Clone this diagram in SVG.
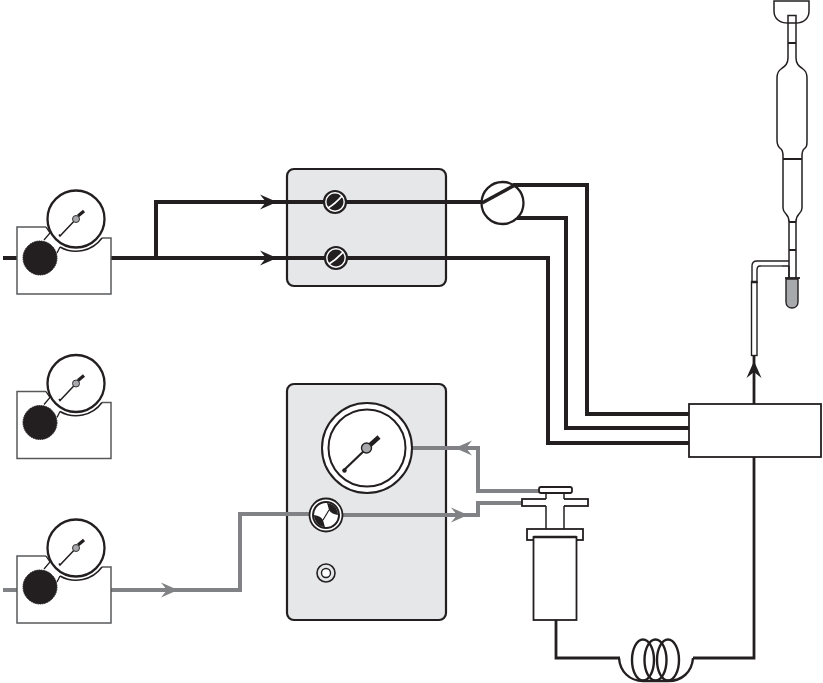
<svg xmlns="http://www.w3.org/2000/svg" width="823" height="683" viewBox="0 0 823 683">
<defs>
<style>
.k{fill:none;stroke:#231f20;stroke-width:4}
.g{fill:none;stroke:#808285;stroke-width:4}
.t{fill:none;stroke:#231f20;stroke-width:1.5}
.w{fill:#fff;stroke:#231f20;stroke-width:1.8}
.p{fill:#e6e7e8;stroke:#231f20;stroke-width:2.2}
.hk{fill:#231f20}
.hg{fill:#808285}
</style>
<path id="ah" d="M0 0L-17 -7.500L-11 0L-17 7.500Z"/>
<g id="cyl">
<path d="M46 227H17V294H111V238H102" fill="#fff" stroke="#58595b" stroke-width="1.500"/>
<path d="M46 227L50 233L44 240M57 253L60 247" fill="none" stroke="#231f20" stroke-width="1.300"/>
<path d="M60 247A32.200 32.200 0 0 0 102 238" fill="none" stroke="#231f20" stroke-width="1.500"/>
<circle cx="76" cy="219" r="28.500" fill="#fff" stroke="#231f20" stroke-width="2.300"/>
<path d="M59 234.500L60 236L78 217" fill="none" stroke="#231f20" stroke-width="1.500"/>
<path d="M78 216L84 211" fill="none" stroke="#231f20" stroke-width="3.200"/>
<circle cx="76" cy="219" r="3.500" fill="#a7a9ac" stroke="#231f20" stroke-width="0.900"/>
<circle cx="40" cy="258" r="17" fill="#231f20" stroke="#231f20" stroke-width="1" stroke-dasharray="1.500 0.800"/>
</g>
<g id="vlv">
<circle r="11" fill="#fff" stroke="#231f20" stroke-width="2.200"/>
<circle r="8.500" fill="#231f20"/>
<path d="M-7 6Q0 2 7 -6" stroke="#fff" stroke-width="1.800" fill="none"/>
</g>
</defs>
<rect width="823" height="683" fill="#fff"/>

<g id="panel-top"><rect class="p" x="287" y="169" width="159" height="117" rx="7"/></g>
<g id="panel-bottom"><rect class="p" x="287" y="384" width="159" height="236" rx="7"/></g>

<g id="connectors">
<path class="k" d="M3 258H17M111 258H548V443H689"/>
<path class="k" d="M156 258V202H483"/>
<path class="k" d="M513 185H587V414H689"/>
<path class="k" d="M517 218H566V428H689"/>
<path d="M754 404V355" fill="none" stroke="#231f20" stroke-width="2.800"/>
<path d="M754 457V658H693M620 658H556V620" fill="none" stroke="#231f20" stroke-width="2.800"/>
<path class="g" d="M3 590H17M111 590H240V514H309"/>
<path class="g" d="M343 515H478V503H523"/>
<path class="g" d="M412 448H478V491H539"/>
<use href="#ah" class="hk" x="277" y="202"/>
<use href="#ah" class="hk" x="277" y="258"/>
<use href="#ah" class="hg" x="178" y="590"/>
<use href="#ah" class="hg" x="468" y="515"/>
<use href="#ah" class="hg" transform="translate(455 448) rotate(180)"/>
<use href="#ah" class="hk" transform="translate(754 361) rotate(-90)"/>
</g>

<g id="regulator-1"><use href="#cyl"/></g>
<g id="regulator-2"><use href="#cyl" y="164.500"/></g>
<g id="regulator-3"><use href="#cyl" y="329"/></g>

<g id="valve-1"><use href="#vlv" x="335" y="202"/></g>
<g id="valve-2"><use href="#vlv" x="336" y="258"/></g>

<g id="switch-valve">
<circle cx="502.500" cy="203" r="21" fill="#fff" stroke="#231f20" stroke-width="2.300"/>
<path d="M482 203L515 185" fill="none" stroke="#231f20" stroke-width="3.600"/>
</g>

<g id="big-gauge">
<circle cx="367" cy="448" r="45" fill="#fff" stroke="#231f20" stroke-width="2"/>
<circle cx="367" cy="448" r="38.500" fill="#fff" stroke="#231f20" stroke-width="2"/>
<path d="M343 471L367 448" fill="none" stroke="#231f20" stroke-width="2.200"/>
<path d="M369 446L379 437" fill="none" stroke="#231f20" stroke-width="4.500"/>
<circle cx="344.500" cy="470.500" r="2.200" fill="#231f20"/>
<circle cx="366.500" cy="448" r="5" fill="#a7a9ac" stroke="#231f20" stroke-width="1.400"/>
</g>
<g id="big-valve">
<circle cx="326" cy="515" r="16.500" fill="#fff" stroke="#231f20" stroke-width="1.800"/>
<circle cx="326" cy="515" r="13" fill="#fff" stroke="#231f20" stroke-width="2"/>
<path d="M327 503A12 12 0 0 1 338 515Q331 514 329 510Q328 506 327 503Z" fill="#231f20"/>
<path d="M325 527A12 12 0 0 1 314 515Q321 516 323 520Q324 524 325 527Z" fill="#231f20"/>
<path d="M329 510L323 520" stroke="#231f20" stroke-width="1.200" fill="none"/>
</g>
<g id="small-port">
<circle cx="326" cy="573" r="9" fill="none" stroke="#231f20" stroke-width="1.600"/>
<circle cx="326" cy="573" r="4.500" fill="#fff" stroke="#231f20" stroke-width="1.400"/>
</g>

<g id="detector"><rect x="689" y="404" width="132" height="53" fill="#fff" stroke="#231f20" stroke-width="1.800"/></g>

<g id="syringe">
<rect class="w" x="522" y="499" width="66" height="7"/>
<path d="M546 492H564V529H546Z" fill="#fff"/>
<path class="t" stroke-width="1.800" d="M546 492V499M564 492V499M546 506V529M564 506V529"/>
<rect class="w" x="539" y="487" width="33" height="6" rx="2"/>
<rect class="w" x="527" y="529" width="56" height="11"/>
<rect class="w" x="533.500" y="537" width="43" height="83"/>
<path d="M533.500 537H576.500" stroke="#231f20" stroke-width="2.500" fill="none"/>
</g>

<g id="coil" fill="none" stroke="#231f20" stroke-width="2.400">
<ellipse cx="643" cy="660" rx="11" ry="20.500"/>
<ellipse cx="655.500" cy="660" rx="11" ry="20.500"/>
<ellipse cx="668" cy="660" rx="11" ry="20.500"/>
<path d="M619 658C620 672 630 681 643 681H668C682 681 692 672 693 658"/>
</g>

<g id="glassware">
<path class="t" d="M774 1H809V11C809 19 803 23 796 23H788C780 23 774 19 774 11Z" fill="#fff"/>
<path class="t" d="M788 43V15.500H796V43" fill="#fff"/>
<path class="t" fill="#fff" d="M788 43V58C788 64 785 66 781 69C778 71 777 73 777 78V140C777 145 778 147 781 149C783 151 783 153 783 156V208C783 211 785 213 786 214C788 216 789 218 789 222V278M796 278V222C796 218 797 216 799 214C801 212 802 211 802 208V156C802 153 802 151 804 149C807 147 807 145 807 140V78C807 73 806 71 803 69C799 66 796 64 796 58V43"/>
<path d="M788 43H796M783 159H802M789 222H796M789 250H796" stroke="#231f20" stroke-width="1.800" fill="none"/>
<path d="M785 278H800" stroke="#231f20" stroke-width="1.800"/>
<path d="M786 279V302C786 306 789 308 792 308C795 308 798 306 798 302V279Z" fill="#a7a9ac" stroke="#231f20" stroke-width="1.400"/>
<path d="M789 261H757C754 261 752 263 752 266V283" fill="none" stroke="#231f20" stroke-width="1.400"/>
<path d="M789 266H760C758 266 757 268 757 270V283" fill="none" stroke="#231f20" stroke-width="1.400"/>
<path d="M761 266H782" fill="none" stroke="#808285" stroke-width="1.400"/>
<path d="M789 266V278" fill="none" stroke="#231f20" stroke-width="1.400"/>
<rect x="751.500" y="282" width="5.500" height="73.500" fill="#fff" stroke="#231f20" stroke-width="1.400"/>
<path d="M751 282H757" stroke="#231f20" stroke-width="2.500"/>
</g>
</svg>
